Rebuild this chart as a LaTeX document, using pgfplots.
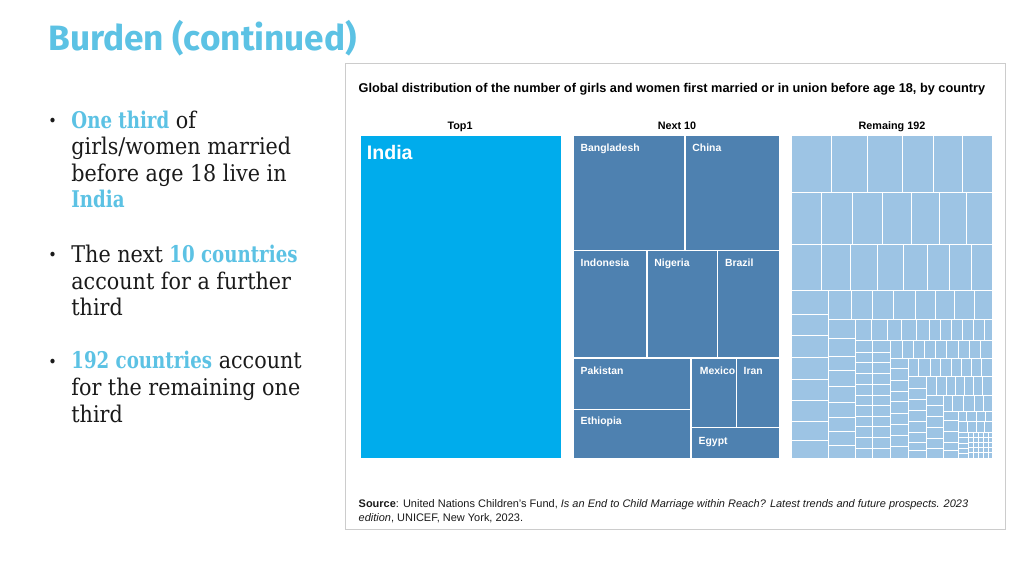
\documentclass[border=0pt]{standalone}
\usepackage{pgfplots}
\pgfplotsset{compat=1.18}
\usepackage{fontspec}
\setmainfont{Liberation Sans}
\newfontfamily\bodyfont{DejaVu Serif Condensed}
\newfontfamily\hlfont{DejaVu Serif Condensed}[FakeStretch=0.88]
\newfontfamily\titlefont{Fira Sans}
\definecolor{hl}{RGB}{92,194,228}
\definecolor{txt}{RGB}{26,26,26}
\definecolor{indc}{RGB}{0,172,236}
\definecolor{nextc}{RGB}{78,129,176}
\definecolor{remc}{RGB}{157,196,228}
\pgfplotsset{
  indst/.style={fill=indc, draw=white, line width=0.7pt},
  nextst/.style={fill=nextc, draw=white, line width=0.7pt},
  remst/.style={fill=remc, draw=white, line width=0.45pt},
}
\tikzset{
  bt/.style={anchor=base west, inner sep=0pt, text=txt, font=\bodyfont\fontsize{11.5}{14}\selectfont},
  bu/.style={anchor=base west, inner sep=0pt, text=txt, font=\bodyfont\fontsize{8}{10}\selectfont},
  cl/.style={anchor=base west, inner sep=0pt, text=white, font=\bfseries\fontsize{5.2}{6}\selectfont},
  hd/.style={anchor=base, inner sep=0pt, text=black, font=\bfseries\fontsize{5.4}{6}\selectfont},
}
\newcommand{\hlb}[1]{{\hlfont\bfseries\color{hl}#1}}
\newcommand{\R}[4]{\addplot[remst] coordinates {(#1,#2)(#3,#2)(#3,#4)(#1,#4)} -- cycle;}
\newcommand{\N}[4]{\addplot[nextst] coordinates {(#1,#2)(#3,#2)(#3,#4)(#1,#4)} -- cycle;}
\begin{document}
\begin{tikzpicture}
\begin{axis}[scale only axis, width=512pt, height=288pt,
  xmin=0, xmax=1024, ymin=0, ymax=576, y dir=reverse,
  axis lines=none, clip=false,
]
% background and panel
\addplot[fill=white, draw=none] coordinates {(0,0)(1024,0)(1024,576)(0,576)} -- cycle;
\addplot[fill=white, draw=black!20, line width=0.5pt] coordinates {(345,63.3)(1005.5,63.3)(1005.5,529.3)(345,529.3)} -- cycle;

% Top 1
\addplot[indst] coordinates {(360,135.5)(561.7,135.5)(561.7,458.3)(360,458.3)} -- cycle;

% Next 10
\N{573.3}{135.7}{685}{250.7} \N{685}{135.7}{780}{250.7}
\N{573.3}{250.7}{647}{358} \N{647}{250.7}{717.7}{358} \N{717.7}{250.7}{780}{358}
\N{573.3}{358}{691}{409.3} \N{573.3}{409.3}{691}{458.3}
\N{691}{358}{736.3}{427.7} \N{736.3}{358}{780}{427.7} \N{691}{427.7}{780}{458.3}

% Remaining 192
\R{791.5}{135.5}{831.7}{192.3} \R{831.7}{135.5}{867.7}{192.3} \R{867.7}{135.5}{902.3}{192.3} \R{902.3}{135.5}{933.3}{192.3} \R{933.3}{135.5}{962.7}{192.3} \R{962.7}{135.5}{992.5}{192.3}
\R{791.5}{192.3}{821.7}{244.3} \R{821.7}{192.3}{852.3}{244.3} \R{852.3}{192.3}{882}{244.3} \R{882}{192.3}{911}{244.3} \R{911}{192.3}{939}{244.3} \R{939}{192.3}{966}{244.3} \R{966}{192.3}{992.5}{244.3}
\R{791.5}{244.3}{821.7}{290.7} \R{821.7}{244.3}{850.3}{290.7} \R{850.3}{244.3}{877.7}{290.7} \R{877.7}{244.3}{903.3}{290.7} \R{903.3}{244.3}{927.3}{290.7} \R{927.3}{244.3}{949.3}{290.7} \R{949.3}{244.3}{971}{290.7} \R{971}{244.3}{992.5}{290.7}
\R{791.5}{290.7}{828}{314} \R{791.5}{314}{828}{335.7} \R{791.5}{335.7}{828}{357.7} \R{791.5}{357.7}{828}{379.3} \R{791.5}{379.3}{828}{400.7} \R{791.5}{400.7}{828}{421.7} \R{791.5}{421.7}{828}{440} \R{791.5}{440}{828}{458}
\R{828}{290.7}{851.7}{319.3} \R{851.7}{290.7}{872.3}{319.3} \R{872.3}{290.7}{893.7}{319.3} \R{893.7}{290.7}{915}{319.3} \R{915}{290.7}{935}{319.3} \R{935}{290.7}{954.3}{319.3} \R{954.3}{290.7}{974}{319.3} \R{974}{290.7}{992.5}{319.3}
\R{828}{319.3}{855}{338.3} \R{828}{338.3}{855}{356} \R{828}{356}{855}{370.7} \R{828}{370.7}{855}{386.7} \R{828}{386.7}{855}{402.3} \R{828}{402.3}{855}{417} \R{828}{417}{855}{431.3} \R{828}{431.3}{855}{445} \R{828}{445}{855}{458}
\R{855}{319.3}{871}{340.5} \R{871}{319.3}{887.3}{340.5} \R{887.3}{319.3}{901.7}{340.5} \R{901.7}{319.3}{916}{340.5} \R{916}{319.3}{929}{340.5} \R{929}{319.3}{940.7}{340.5} \R{940.7}{319.3}{951.3}{340.5} \R{951.3}{319.3}{962.3}{340.5} \R{962.3}{319.3}{973.3}{340.5} \R{973.3}{319.3}{984}{340.5} \R{984}{319.3}{992.5}{340.5}
\R{855}{340.5}{872.7}{352.3} \R{855}{352.3}{872.7}{362.7} \R{855}{362.7}{872.7}{373.3} \R{855}{373.3}{872.7}{384.3} \R{855}{384.3}{872.7}{395} \R{855}{395}{872.7}{405.7} \R{855}{405.7}{872.7}{416.7} \R{855}{416.7}{872.7}{426.7} \R{855}{426.7}{872.7}{437.7} \R{855}{437.7}{872.7}{448.3} \R{855}{448.3}{872.7}{458}
\R{872.7}{340.5}{890.7}{352.3} \R{872.7}{352.3}{890.7}{362.7} \R{872.7}{362.7}{890.7}{373.3} \R{872.7}{373.3}{890.7}{384.3} \R{872.7}{384.3}{890.7}{395} \R{872.7}{395}{890.7}{405.7} \R{872.7}{405.7}{890.7}{416.7} \R{872.7}{416.7}{890.7}{426.7} \R{872.7}{426.7}{890.7}{437.7} \R{872.7}{437.7}{890.7}{448.3} \R{872.7}{448.3}{890.7}{458}
\R{890.7}{340.5}{902.3}{358.3} \R{902.3}{340.5}{913.3}{358.3} \R{913.3}{340.5}{924}{358.3} \R{924}{340.5}{935.7}{358.3} \R{935.7}{340.5}{946.7}{358.3} \R{946.7}{340.5}{958.3}{358.3} \R{958.3}{340.5}{969.3}{358.3} \R{969.3}{340.5}{980.7}{358.3} \R{980.7}{340.5}{992.5}{358.3}
\R{890.7}{358.3}{908.3}{368.3} \R{890.7}{368.3}{908.3}{380} \R{890.7}{380}{908.3}{391} \R{890.7}{391}{908.3}{401.7} \R{890.7}{401.7}{908.3}{413.3} \R{890.7}{413.3}{908.3}{424.3} \R{890.7}{424.3}{908.3}{435} \R{890.7}{435}{908.3}{446.7} \R{890.7}{446.7}{908.3}{458}
\R{908.3}{358.3}{918.3}{376.7} \R{918.3}{358.3}{930}{376.7} \R{930}{358.3}{940.7}{376.7} \R{940.7}{358.3}{951}{376.7} \R{951}{358.3}{961.7}{376.7} \R{961.7}{358.3}{971.7}{376.7} \R{971.7}{358.3}{981.7}{376.7} \R{981.7}{358.3}{992.5}{376.7}
\R{908.3}{376.7}{926}{388} \R{908.3}{388}{926}{399} \R{908.3}{399}{926}{410} \R{908.3}{410}{926}{421} \R{908.3}{421}{926}{432} \R{908.3}{432}{926}{442} \R{908.3}{442}{926}{450.5} \R{908.3}{450.5}{926}{458}
\R{926}{376.7}{936}{395} \R{936}{376.7}{946.3}{395} \R{946.3}{376.7}{955.3}{395} \R{955.3}{376.7}{964}{395} \R{964}{376.7}{973}{395} \R{973}{376.7}{982.5}{395} \R{982.5}{376.7}{992.5}{395}
\R{926}{395}{943.3}{405.7} \R{926}{405.7}{943.3}{416.7} \R{926}{416.7}{943.3}{427.7} \R{926}{427.7}{943.3}{438.3} \R{926}{438.3}{943.3}{448.3} \R{926}{448.3}{943.3}{458}
\R{943.3}{395}{952.7}{411} \R{952.7}{395}{963.3}{411} \R{963.3}{395}{974}{411} \R{974}{395}{983.3}{411} \R{983.3}{395}{992.5}{411}
\R{943.3}{411}{958.3}{420} \R{943.3}{420}{958.3}{431} \R{943.3}{431}{958.3}{442} \R{943.3}{442}{958.3}{450} \R{943.3}{450}{958.3}{458}
\R{958.3}{411}{966.7}{421.5} \R{966.7}{411}{976}{421.5} \R{976}{411}{985}{421.5} \R{985}{411}{992.5}{421.5}
\R{958.3}{421.5}{967}{432} \R{967}{421.5}{976}{432} \R{976}{421.5}{984.5}{432} \R{984.5}{421.5}{992.5}{432}
\R{958.3}{432}{968.3}{437.5} \R{958.3}{437.5}{968.3}{443} \R{958.3}{443}{968.3}{448} \R{958.3}{448}{968.3}{453} \R{958.3}{453}{968.3}{458}
\R{968.3}{432}{973}{437} \R{973}{432}{978}{437} \R{978}{432}{983}{437} \R{983}{432}{988}{437} \R{988}{432}{992.5}{437}
\R{968.3}{437}{973}{442.5} \R{973}{437}{978}{442.5} \R{978}{437}{983}{442.5} \R{983}{437}{988}{442.5} \R{988}{437}{992.5}{442.5}
\R{968.3}{442.5}{973}{447.5} \R{973}{442.5}{978}{447.5} \R{978}{442.5}{983}{447.5} \R{983}{442.5}{988}{447.5} \R{988}{442.5}{992.5}{447.5}
\R{968.3}{447.5}{973}{452.5} \R{973}{447.5}{978}{452.5} \R{978}{447.5}{983}{452.5} \R{983}{447.5}{988}{452.5} \R{988}{447.5}{992.5}{452.5}
\R{968.3}{452.5}{973}{458} \R{973}{452.5}{978}{458} \R{978}{452.5}{983}{458} \R{983}{452.5}{988}{458} \R{988}{452.5}{992.5}{458}

% slide title
\node[anchor=base west, inner sep=0pt, text=hl, font=\titlefont\bfseries\fontsize{17.6}{20}\selectfont] at (axis cs:48,51) {Burden (continued)};

% bullets
\node[bu] at (axis cs:48,126.5) {•};
\node[bt] at (axis cs:71,128.3) {\hlb{One third} of};
\node[bt] at (axis cs:71,155) {girls/women married};
\node[bt] at (axis cs:71,181.5) {before age 18 live in};
\node[bt] at (axis cs:71,208) {\hlb{India}};
\node[bu] at (axis cs:48,261) {•};
\node[bt] at (axis cs:71,262.7) {The next \hlb{10 countries}};
\node[bt] at (axis cs:71,289.3) {account for a further};
\node[bt] at (axis cs:71,316) {third};
\node[bu] at (axis cs:48,367.5) {•};
\node[bt] at (axis cs:71,369) {\hlb{192 countries} account};
\node[bt] at (axis cs:71,395.7) {for the remaining one};
\node[bt] at (axis cs:71,422.3) {third};

% chart title and headers
\node[anchor=base west, inner sep=0pt, text=black, font=\bfseries\fontsize{6.37}{7}\selectfont] at (axis cs:358.3,92.3) {Global distribution of the number of girls and women first married or in union before age 18, by country};
\node[hd] at (axis cs:460,130) {Top1};
\node[hd] at (axis cs:677,130) {Next 10};
\node[hd] at (axis cs:892,130) {Remaing 192};

% labels
\node[anchor=base west, inner sep=0pt, text=white, font=\bfseries\fontsize{9.8}{10}\selectfont] at (axis cs:366.5,159.3) {India};
\node[cl] at (axis cs:580.3,151.5) {Bangladesh};
\node[cl] at (axis cs:692,151.5) {China};
\node[cl] at (axis cs:580.3,266.6) {Indonesia};
\node[cl] at (axis cs:654,266.6) {Nigeria};
\node[cl] at (axis cs:724.7,266.6) {Brazil};
\node[cl] at (axis cs:580.3,374.2) {Pakistan};
\node[cl] at (axis cs:699.5,374.2) {Mexico};
\node[cl] at (axis cs:743.3,374.2) {Iran};
\node[cl] at (axis cs:580.3,425) {Ethiopia};
\node[cl] at (axis cs:698.3,444.3) {Egypt};

% source
\node[anchor=base west, inner sep=0pt, text=txt, font=\fontsize{5.49}{6}\selectfont] at (axis cs:358.3,508) {\textbf{Source}: United Nations Children’s Fund, \textit{Is an End to Child Marriage within Reach? Latest trends and future prospects. 2023}};
\node[anchor=base west, inner sep=0pt, text=txt, font=\fontsize{5.49}{6}\selectfont] at (axis cs:358.3,521.5) {\textit{edition}, UNICEF, New York, 2023.};
\end{axis}
\end{tikzpicture}
\end{document}
